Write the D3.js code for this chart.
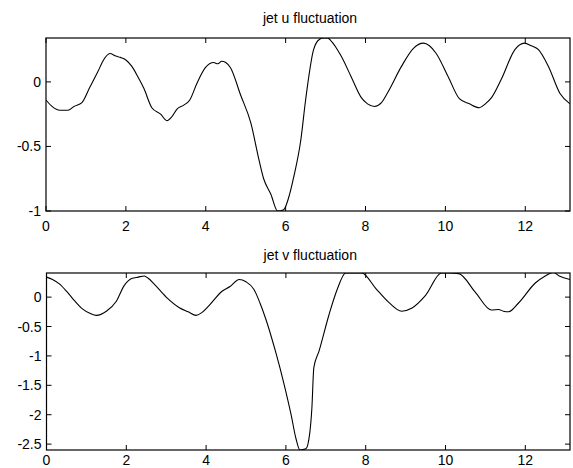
<!DOCTYPE html>
<html>
<head>
<meta charset="utf-8">
<script src="https://cdn.jsdelivr.net/npm/d3@7"></script>
<style>
  body { margin: 0; background: #fff; }
  svg { display: block; }
  text { font-family: "Liberation Sans", Arial, sans-serif; fill: #000; }
  .frame { fill: none; stroke: #000; stroke-width: 1.2; }
  .tick-mark { stroke: #000; stroke-width: 1; }
  .line { fill: none; stroke: #000; stroke-width: 1.1; }
</style>
</head>
<body>
<div id="chart"></div>
<script>
// time axis samples and readings, jet u fluctuation
var uTime = [0, 0.15, 0.35, 0.55, 0.7, 0.9, 1.1, 1.3, 1.44, 1.6, 1.75, 1.86, 2.0, 2.15, 2.3,
  2.45, 2.65, 2.87, 3.03, 3.15, 3.28, 3.45, 3.6, 3.78, 3.99, 4.2, 4.3, 4.4, 4.5, 4.62, 4.87,
  5.13, 5.33, 5.45, 5.63, 5.8, 5.95, 6.1, 6.2, 6.38, 6.5, 6.7, 6.85, 6.95, 7.05, 7.13, 7.39,
  7.64, 7.89, 8.05, 8.22, 8.4, 8.56, 8.9, 9.2, 9.45, 9.6, 9.77, 10.07, 10.35, 10.6, 10.85,
  11.0, 11.16, 11.4, 11.74, 11.98, 12.15, 12.33, 12.58, 12.87, 13.12];
var uValues = [-0.14, -0.19, -0.22, -0.22, -0.19, -0.16, -0.04, 0.08, 0.17, 0.22, 0.2, 0.19, 0.17, 0.12, 0.04,
  -0.05, -0.2, -0.25, -0.30, -0.27, -0.21, -0.18, -0.14, -0.01, 0.11, 0.15, 0.14, 0.16, 0.15, 0.11, -0.1,
  -0.32, -0.6, -0.75, -0.87, -1.0, -0.99, -0.87, -0.74, -0.45, -0.14, 0.25, 0.33, 0.34, 0.34, 0.32, 0.2,
  0.04, -0.12, -0.17, -0.19, -0.16, -0.08, 0.12, 0.26, 0.30, 0.28, 0.22, 0.04, -0.13, -0.17, -0.2,
  -0.17, -0.12, 0.02, 0.25, 0.30, 0.28, 0.25, 0.12, -0.09, -0.17];

// jet v fluctuation
var vTime = [0, 0.15, 0.33, 0.5, 0.65, 0.9, 1.1, 1.25, 1.5, 1.75, 1.95, 2.15, 2.3, 2.45, 2.55,
  2.7, 3.0, 3.33, 3.55, 3.75, 3.9, 4.08, 4.4, 4.6, 4.83, 5.0, 5.2, 5.35, 5.5, 5.75, 5.95,
  6.13, 6.25, 6.35, 6.5, 6.6, 6.65, 6.7, 6.83, 7.08, 7.28, 7.5, 7.7, 7.9, 8.25, 8.58, 8.9,
  9.15, 9.5, 9.9, 10.1, 10.33, 10.75, 11.15, 11.33, 11.45, 11.58, 11.83, 12.25, 12.5, 12.7,
  12.85, 13.12];
var vValues = [0.34, 0.3, 0.22, 0.1, -0.02, -0.2, -0.28, -0.31, -0.24, -0.07, 0.2, 0.32, 0.34, 0.36, 0.32,
  0.22, 0.0, -0.18, -0.25, -0.31, -0.26, -0.14, 0.1, 0.18, 0.3, 0.26, 0.13, -0.1, -0.38, -0.95, -1.47,
  -2.0, -2.4, -2.6, -2.58, -2.3, -1.9, -1.2, -0.92, -0.3, 0.12, 0.41, 0.41, 0.41, 0.15, -0.09, -0.24,
  -0.19, 0.03, 0.41, 0.41, 0.4, 0.08, -0.22, -0.21, -0.24, -0.25, -0.1, 0.24, 0.36, 0.42,
  0.36, 0.3];

// tick labels
var xTicks = [0, 2, 4, 6, 8, 10, 12];
var uTicks = [-1, -0.5, 0];
var vTicks = [-2.5, -2, -1.5, -1, -0.5, 0];

var W = 573, H = 468;
var svg = d3.select("#chart").append("svg")
  .attr("width", W)
  .attr("height", H);

var fmt = function(d) { return d3.format("")(d).replace("−", "-"); };

//draws one subplot with box, inward ticks on all four sides and a title
function panel(cfg) {
  var x = d3.scaleLinear().domain([0, 13.12]).range([cfg.left, cfg.right]);
  var y = d3.scaleLinear().domain(cfg.ydomain).range([cfg.bottom, cfg.top]);
  var g = svg.append("g");
  var tl = 5;

  g.append("clipPath").attr("id", cfg.id)
    .append("rect")
    .attr("x", cfg.left).attr("y", cfg.top)
    .attr("width", cfg.right - cfg.left).attr("height", cfg.bottom - cfg.top);

  var data = cfg.t.map(function(t, i) { return { t: t, v: cfg.v[i] }; });
  var line = d3.line()
    .x(function(d) { return x(d.t); })
    .y(function(d) { return y(d.v); })
    .curve(d3.curveMonotoneX);

  g.append("path")
    .datum(data)
    .attr("class", "line")
    .attr("clip-path", "url(#" + cfg.id + ")")
    .attr("d", line);

  // x ticks, bottom and top
  g.selectAll(".xt").data(xTicks).enter().append("line")
    .attr("class", "tick-mark")
    .attr("x1", function(d) { return x(d); }).attr("x2", function(d) { return x(d); })
    .attr("y1", cfg.bottom).attr("y2", cfg.bottom - tl);
  g.selectAll(".xt2").data(xTicks).enter().append("line")
    .attr("class", "tick-mark")
    .attr("x1", function(d) { return x(d); }).attr("x2", function(d) { return x(d); })
    .attr("y1", cfg.top).attr("y2", cfg.top + tl);
  g.selectAll(".xl").data(xTicks).enter().append("text")
    .attr("x", function(d) { return x(d); })
    .attr("y", Math.min(cfg.bottom + 20, H - 3))
    .style("text-anchor", "middle")
    .style("font-size", "14px")
    .text(fmt);

  // y ticks, left and right
  g.selectAll(".yt").data(cfg.yticks).enter().append("line")
    .attr("class", "tick-mark")
    .attr("x1", cfg.left).attr("x2", cfg.left + tl)
    .attr("y1", function(d) { return y(d); }).attr("y2", function(d) { return y(d); });
  g.selectAll(".yt2").data(cfg.yticks).enter().append("line")
    .attr("class", "tick-mark")
    .attr("x1", cfg.right).attr("x2", cfg.right - tl)
    .attr("y1", function(d) { return y(d); }).attr("y2", function(d) { return y(d); });
  g.selectAll(".yl").data(cfg.yticks).enter().append("text")
    .attr("x", cfg.left - 5)
    .attr("y", function(d) { return y(d); })
    .attr("dy", "0.36em")
    .style("text-anchor", "end")
    .style("font-size", "14px")
    .text(fmt);

  g.append("rect")
    .attr("class", "frame")
    .attr("x", cfg.left).attr("y", cfg.top)
    .attr("width", cfg.right - cfg.left).attr("height", cfg.bottom - cfg.top);

  g.append("text")
    .attr("x", (cfg.left + cfg.right) / 2 + 2)
    .attr("y", cfg.top - cfg.titleGap)
    .style("text-anchor", "middle")
    .style("font-size", "14px")
    .text(cfg.title);
}

panel({
  id: "clipU", title: "jet u fluctuation", titleGap: 15,
  left: 46, right: 570, top: 38, bottom: 211,
  ydomain: [-1, 0.34], yticks: uTicks, t: uTime, v: uValues
});

panel({
  id: "clipV", title: "jet v fluctuation", titleGap: 13,
  left: 46.5, right: 570, top: 273, bottom: 450,
  ydomain: [-2.6, 0.41], yticks: vTicks, t: vTime, v: vValues
});
</script>
</body>
</html>
